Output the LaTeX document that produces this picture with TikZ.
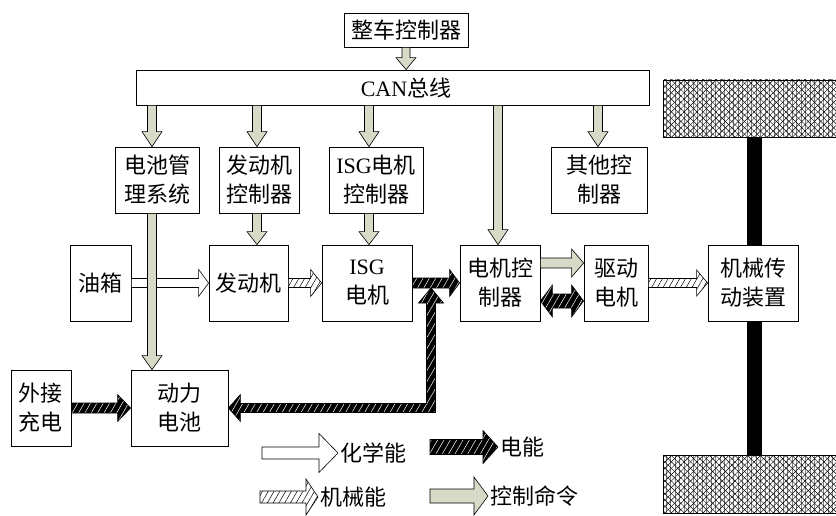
\documentclass[tikz,border=0pt]{standalone}
\usepackage{fontspec}
\setmainfont{Liberation Serif}
\newfontfamily\cjk{Noto Sans CJK SC}
\usetikzlibrary{patterns.meta,calc}
\definecolor{ctlc}{RGB}{214,219,199}
\newcommand\blockar[6]{%
 \path[#1] let \p1=(#2), \p2=(#3), \n1={veclen(\x2-\x1,\y2-\y1)}, \n2={(\x2-\x1)/\n1}, \n3={(\y2-\y1)/\n1} in
 ({\x1-\n3*#4},{\y1+\n2*#4}) -- ({\x2-\n2*#6-\n3*#4},{\y2-\n3*#6+\n2*#4}) -- ({\x2-\n2*#6-\n3*#5},{\y2-\n3*#6+\n2*#5}) -- (\x2,\y2) -- ({\x2-\n2*#6+\n3*#5},{\y2-\n3*#6-\n2*#5}) -- ({\x2-\n2*#6+\n3*#4},{\y2-\n3*#6-\n2*#4}) -- ({\x1+\n3*#4},{\y1-\n2*#4}) -- cycle;}
\newcommand\dblockar[6]{%
 \path[#1] let \p1=(#2), \p2=(#3), \n1={veclen(\x2-\x1,\y2-\y1)}, \n2={(\x2-\x1)/\n1}, \n3={(\y2-\y1)/\n1} in
 (\x1,\y1) -- ({\x1+\n2*#6-\n3*#5},{\y1+\n3*#6+\n2*#5}) -- ({\x1+\n2*#6-\n3*#4},{\y1+\n3*#6+\n2*#4}) -- ({\x2-\n2*#6-\n3*#4},{\y2-\n3*#6+\n2*#4}) -- ({\x2-\n2*#6-\n3*#5},{\y2-\n3*#6+\n2*#5}) -- (\x2,\y2) -- ({\x2-\n2*#6+\n3*#5},{\y2-\n3*#6-\n2*#5}) -- ({\x2-\n2*#6+\n3*#4},{\y2-\n3*#6-\n2*#4}) -- ({\x1+\n2*#6+\n3*#4},{\y1+\n3*#6-\n2*#4}) -- ({\x1+\n2*#6+\n3*#5},{\y1+\n3*#6-\n2*#5}) -- cycle;}
\tikzset{
 box/.style={draw, line width=0.8pt, fill=white, inner sep=0pt, align=center, font=\cjk\fontsize{22}{29}\selectfont},
 txt/.style={inner sep=2pt, align=center, font=\cjk\fontsize{22}{29}\selectfont},
 ctl/.style={draw=black, line width=0.6pt, fill=ctlc},
 chem/.style={draw=black, line width=0.6pt, fill=white},
 elec/.style={draw=black, line width=0.6pt, preaction={fill=black}, pattern={Lines[angle=60,distance=5.5pt,line width=0.5pt]}, pattern color=white},
 mech/.style={draw=black, line width=0.6pt, preaction={fill=white}, pattern={Lines[angle=60,distance=5pt,line width=0.5pt]}, pattern color=black},
 wheel/.style={draw=black, line width=0.6pt}
}
\begin{document}
\begin{tikzpicture}[x=1pt,y=-1pt]
\useasboundingbox[fill=white] (0,0) rectangle (836,516);
% wheels and axle
\fill[black] (747,137) rectangle (762,455);
\foreach \yy/\hh in {80/57,455/58}{
 \path[fill=white] (663,\yy) rectangle ++(180,\hh);
 \path[pattern={Lines[angle=90,distance=4.5pt,line width=0.4pt]}, pattern color=gray] (663,\yy) rectangle ++(180,\hh);
 \path[pattern={Lines[angle=45,distance=4.5pt,line width=0.45pt]}] (663,\yy) rectangle ++(180,\hh);
 \path[pattern={Lines[angle=-45,distance=4.5pt,line width=0.45pt]}] (663,\yy) rectangle ++(180,\hh);
 \draw[wheel] (663,\yy) rectangle ++(180,\hh);
}
% nodes
\node[box,minimum width=124,minimum height=34] (vcu) at (406,30) {整车控制器};
\node[box,minimum width=513,minimum height=35] (can) at (392.5,87.5) {};
\node[txt] (cant) at (406,88) {{\rmfamily CAN}总线};
\node[box,minimum width=84,minimum height=66] (bms) at (157,180) {电池管\\理系统};
\node[box,minimum width=80,minimum height=66] (ecu) at (259,180) {发动机\\控制器};
\node[box,minimum width=94,minimum height=66] (isgc) at (376,180) {{\rmfamily ISG}电机\\控制器};
\node[box,minimum width=96,minimum height=66] (oth) at (599,180) {其他控\\制器};
\node[box,minimum width=61,minimum height=76] (oil) at (100.5,283) {油箱};
\node[box,minimum width=79,minimum height=76] (eng) at (248.5,283) {发动机};
\node[box,minimum width=90,minimum height=76] (isg) at (367,283) {{\rmfamily ISG}\\电机};
\node[box,minimum width=80,minimum height=76] (mc) at (500,283) {电机控\\制器};
\node[box,minimum width=64,minimum height=76] (dm) at (616,283) {驱动\\电机};
\node[box,minimum width=90,minimum height=76] (mt) at (753,283) {机械传\\动装置};
\node[box,minimum width=60,minimum height=76] (ext) at (41,408) {外接\\充电};
\node[box,minimum width=97,minimum height=76] (bat) at (179.5,408) {动力\\电池};
% helper coordinates
\coordinate (c1) at (152,0);
\coordinate (c2) at (257,0);
\coordinate (c3) at (369,0);
\coordinate (c4) at (498,0);
\coordinate (c5) at (598,0);
\coordinate (r1) at (0,263);
\coordinate (r2) at (0,301);
\coordinate (lc) at (431,0);
\coordinate (lt) at (431,288);
% control arrows
\blockar{ctl}{vcu.south}{vcu.south |- can.north}{4}{10}{12}
\blockar{ctl}{c1 |- can.south}{c1 |- bms.north}{4.5}{10}{15}
\blockar{ctl}{c2 |- can.south}{c2 |- ecu.north}{4.5}{10}{15}
\blockar{ctl}{c3 |- can.south}{c3 |- isgc.north}{4.5}{10}{15}
\blockar{ctl}{c4 |- can.south}{c4 |- mc.north}{4.5}{10}{15}
\blockar{ctl}{c5 |- can.south}{c5 |- oth.north}{4.5}{10}{15}
\blockar{ctl}{c2 |- ecu.south}{c2 |- eng.north}{4.5}{10}{13}
\blockar{ctl}{c3 |- isgc.south}{c3 |- isg.north}{4.5}{10}{13}
% energy arrows
\blockar{chem}{oil.east}{eng.west}{4.5}{13.5}{10}
\blockar{ctl}{c1 |- bms.south}{c1 |- bat.north}{4.5}{10}{14}
\blockar{mech}{eng.east}{isg.west}{4.5}{13.5}{11}
\blockar{elec}{isg.east}{mc.west}{5}{13.5}{10}
\blockar{ctl}{mc.east |- r1}{dm.west |- r1}{5}{14}{12}
\dblockar{elec}{mc.east |- r2}{dm.west |- r2}{7}{16}{12}
\blockar{mech}{dm.east}{mt.west}{4.5}{13}{11}
\blockar{elec}{ext.east}{bat.west}{5}{13.5}{13}
\path[elec] let \p1=(bat.east), \p2=(lc |- bat.east), \p3=(lt) in
 (\x1,\y1) -- ({\x1+12},{\y1+13.5}) -- ({\x1+12},{\y1+4.5}) -- ({\x2-4.5},{\y1+4.5}) -- ({\x2-4.5},{\y3-15}) -- ({\x2-12.5},{\y3-15}) -- (\x2,\y3) -- ({\x2+12.5},{\y3-15}) -- ({\x2+4.5},{\y3-15}) -- ({\x2+4.5},{\y1-4.5}) -- ({\x1+12},{\y1-4.5}) -- ({\x1+12},{\y1-13.5}) -- cycle;
% legend
\node[txt,anchor=west] (l1) at (338,453) {化学能};
\node[txt,anchor=west] (l2) at (498,447) {电能};
\node[txt,anchor=west] (l3) at (318,497) {机械能};
\node[txt,anchor=west] (l4) at (488,496) {控制命令};
\blockar{chem}{$(l1.west)+(-76,0)$}{l1.west}{6}{19.5}{19}
\blockar{elec}{$(l2.west)+(-68,0)$}{l2.west}{7.5}{16.5}{15}
\blockar{mech}{$(l3.west)+(-58,0)$}{l3.west}{6}{18}{12}
\blockar{ctl}{$(l4.west)+(-58,0)$}{l4.west}{7}{19}{14}
\end{tikzpicture}
\end{document}
